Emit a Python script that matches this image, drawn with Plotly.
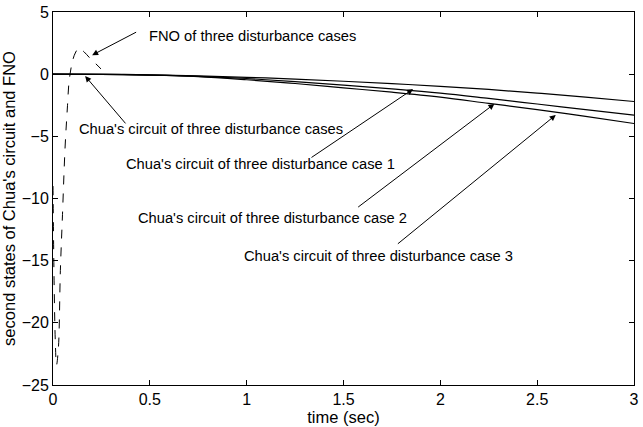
import plotly.graph_objects as go

# Chua's circuit, three disturbance cases (time in sec)
t_chua = [0, 0.25, 0.5, 0.75, 1.0, 1.25, 1.5, 1.75, 2.0, 2.25, 2.5, 2.75, 3.0]
case1 = [0, -0.01, -0.05, -0.13, -0.25, -0.40, -0.57, -0.76, -0.98, -1.23, -1.52, -1.85, -2.20]
case2 = [0, -0.02, -0.07, -0.17, -0.35, -0.60, -0.88, -1.18, -1.52, -1.95, -2.40, -2.85, -3.30]
case3 = [0, -0.02, -0.08, -0.20, -0.45, -0.75, -1.10, -1.45, -1.85, -2.35, -2.85, -3.40, -3.97]

# FNO transient
t_fno = [0, 0.006, 0.012, 0.018, 0.028, 0.038, 0.049, 0.062, 0.075, 0.083,
         0.10, 0.115, 0.134, 0.16, 0.19, 0.22, 0.248]
fno = [-9, -17, -21.5, -23.4, -22, -15.8, -11.3, -6, -2.5, -0.6,
       1.0, 1.7, 2.1, 1.8, 1.3, 0.85, 0.42]

# annotations: (text, text_x, text_y, tail_x, tail_y, tip_x, tip_y)
notes = [
    ("FNO of three disturbance cases", 0.483, 3.1, 0.437, 3.44, 0.202, 1.53),
    ("Chua's circuit of three disturbance cases", 0.125, -4.4, 0.381, -4.08, 0.166, -0.15),
    ("Chua's circuit of three disturbance case 1", 0.365, -7.25, 1.327, -6.78, 1.859, -1.2),
    ("Chua's circuit of three disturbance case 2", 0.43, -11.55, 1.568, -10.78, 2.279, -2.39),
    ("Chua's circuit of three disturbance case 3", 0.975, -14.6, 1.773, -13.74, 2.596, -3.28),
]

fig = go.Figure()
for ys in (case1, case2, case3):
    fig.add_trace(go.Scatter(x=t_chua, y=ys, mode="lines", line=dict(color="black", width=1.2, shape="spline"),
                             showlegend=False))
fig.add_trace(go.Scatter(x=t_fno, y=fno, mode="lines",
                         line=dict(color="black", width=1, dash="dash", shape="spline"), showlegend=False))

ff = "Liberation Sans, Arial, sans-serif"
font = dict(family=ff, size=14.7, color="black")
title_font = dict(family=ff, size=16.5, color="black")
for text, tx, ty, ax_, ay_, px, py in notes:
    fig.add_annotation(x=tx, y=ty, text=text, showarrow=False, xanchor="left", yanchor="middle", font=font)
    fig.add_annotation(x=px, y=py, ax=ax_, ay=ay_, axref="x", ayref="y", text="", showarrow=True,
                       arrowhead=2, arrowsize=1.2, arrowwidth=1, arrowcolor="black")

axis_common = dict(showline=True, linecolor="black", linewidth=1, mirror="ticks", ticks="inside",
                   ticklen=5, tickcolor="black", showgrid=False, zeroline=False,
                   tickfont=dict(family=ff, size=16, color="black"))

fig.update_layout(
    width=643, height=427,
    margin=dict(l=53, r=4, t=10, b=42),
    plot_bgcolor="white", paper_bgcolor="white",
    xaxis=dict(range=[0, 3], tickvals=[0, 0.5, 1, 1.5, 2, 2.5, 3], ticktext=["0", "0.5", "1", "1.5", "2", "2.5", "3"],
               title=dict(text="time (sec)", standoff=0, font=title_font), **axis_common),
    yaxis=dict(range=[-25, 5], tickvals=[-25, -20, -15, -10, -5, 0, 5],
               title=dict(text="second states of Chua's circuit and FNO", standoff=4, font=title_font), **axis_common),
)

fig.write_html("out.html")
